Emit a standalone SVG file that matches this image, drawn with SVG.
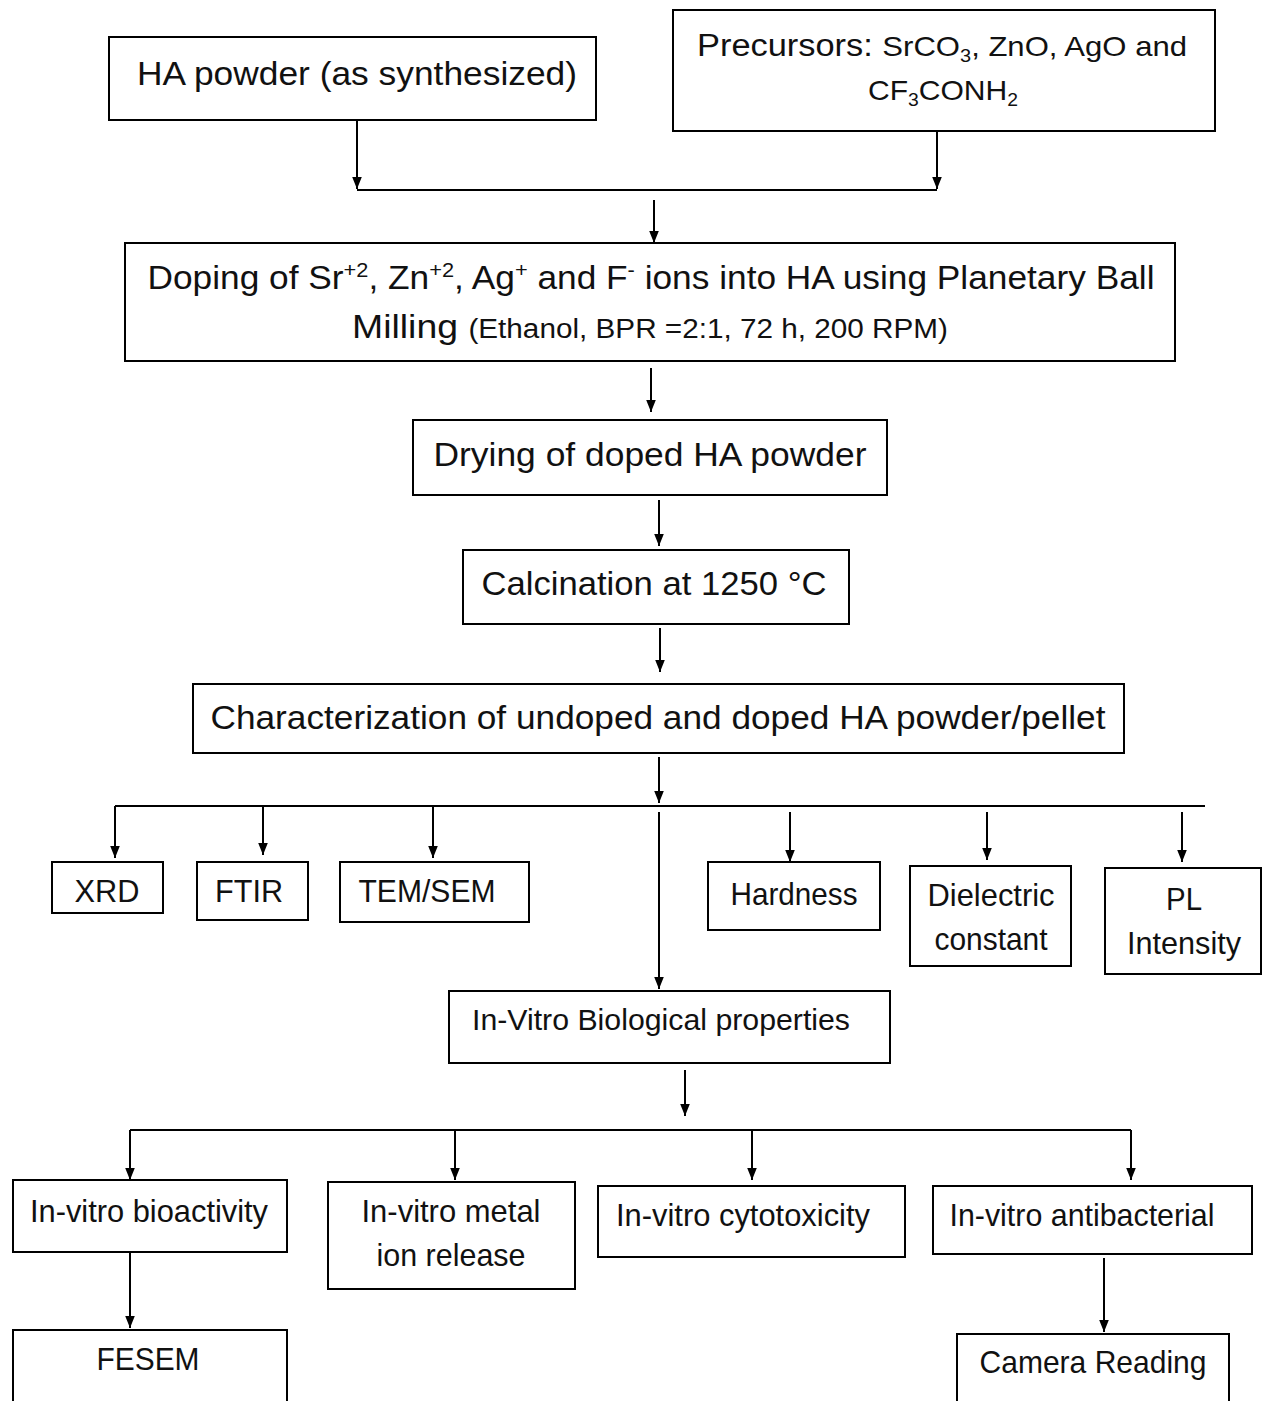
<svg xmlns="http://www.w3.org/2000/svg" width="1262" height="1401" viewBox="0 0 1262 1401">
<defs>
<marker id="ah" viewBox="0 0 10 10" refX="10" refY="5" markerWidth="6" markerHeight="6" orient="auto" markerUnits="strokeWidth"><path d="M0,1 L10,5 L0,9 z" fill="#000"/></marker>
<style>
.box{fill:#fff;stroke:#000;stroke-width:2}
.t{font-family:"Liberation Sans",Arial,sans-serif;fill:#111;text-anchor:middle}
.c line,.c path{stroke:#000;stroke-width:2;fill:none}
.a{marker-end:url(#ah)}
</style>
</defs>
<rect width="1262" height="1401" fill="#fff"/>
<g class="c">
<line class="a" x1="357" y1="120" x2="357" y2="189"/>
<line class="a" x1="937" y1="131" x2="937" y2="189"/>
<line x1="357" y1="190" x2="937" y2="190"/>
<line class="a" x1="654" y1="200" x2="654" y2="243"/>
<line class="a" x1="651" y1="368" x2="651" y2="412"/>
<line class="a" x1="659" y1="500" x2="659" y2="546"/>
<line class="a" x1="660" y1="628" x2="660" y2="672"/>
<line class="a" x1="659" y1="757" x2="659" y2="803"/>
<line x1="115" y1="806" x2="1205" y2="806"/>
<line class="a" x1="115" y1="806" x2="115" y2="858"/>
<line class="a" x1="263" y1="806" x2="263" y2="855"/>
<line class="a" x1="433" y1="806" x2="433" y2="858"/>
<line class="a" x1="659" y1="812" x2="659" y2="989"/>
<line class="a" x1="790" y1="812" x2="790" y2="862"/>
<line class="a" x1="987" y1="812" x2="987" y2="860"/>
<line class="a" x1="1182" y1="812" x2="1182" y2="862"/>
<line class="a" x1="685" y1="1070" x2="685" y2="1116"/>
<line x1="130" y1="1130" x2="1131" y2="1130"/>
<line class="a" x1="130" y1="1130" x2="130" y2="1180"/>
<line class="a" x1="455" y1="1130" x2="455" y2="1180"/>
<line class="a" x1="752" y1="1130" x2="752" y2="1180"/>
<line class="a" x1="1131" y1="1130" x2="1131" y2="1180"/>
<line class="a" x1="130" y1="1252" x2="130" y2="1328"/>
<line class="a" x1="1104" y1="1258" x2="1104" y2="1332"/>
</g>
<g id="ha"><rect class="box" x="109" y="37" width="487" height="83"/>
<text class="t" x="357" y="85" font-size="34" textLength="440" lengthAdjust="spacingAndGlyphs">HA powder (as synthesized)</text></g>
<g id="precursors"><rect class="box" x="673" y="10" width="542" height="121"/>
<text class="t" x="942" y="56" font-size="31" textLength="490" lengthAdjust="spacingAndGlyphs">Precursors: <tspan font-size="28">SrCO<tspan font-size="18" dy="6">3</tspan><tspan dy="-6">, ZnO, AgO and</tspan></tspan></text>
<text class="t" x="943" y="100" font-size="28" textLength="150" lengthAdjust="spacingAndGlyphs">CF<tspan font-size="18" dy="6">3</tspan><tspan dy="-6">CONH</tspan><tspan font-size="18" dy="6">2</tspan></text></g>
<g id="doping"><rect class="box" x="125" y="243" width="1050" height="118"/>
<text class="t" x="651" y="289" font-size="34" textLength="1007" lengthAdjust="spacingAndGlyphs">Doping of Sr<tspan font-size="21" dy="-12">+2</tspan><tspan dy="12">, Zn</tspan><tspan font-size="21" dy="-12">+2</tspan><tspan dy="12">, Ag</tspan><tspan font-size="21" dy="-12">+</tspan><tspan dy="12"> and F</tspan><tspan font-size="21" dy="-12">-</tspan><tspan dy="12"> ions into HA using Planetary Ball</tspan></text>
<text class="t" x="650" y="338" font-size="34" textLength="596" lengthAdjust="spacingAndGlyphs">Milling <tspan font-size="27">(Ethanol, BPR =2:1, 72 h, 200 RPM)</tspan></text></g>
<g id="drying"><rect class="box" x="413" y="420" width="474" height="75"/>
<text class="t" x="650" y="466" font-size="33" textLength="433" lengthAdjust="spacingAndGlyphs">Drying of doped HA powder</text></g>
<g id="calcination"><rect class="box" x="463" y="550" width="386" height="74"/>
<text class="t" x="654" y="595" font-size="33" textLength="345" lengthAdjust="spacingAndGlyphs">Calcination at 1250 °C</text></g>
<g id="characterization"><rect class="box" x="193" y="684" width="931" height="69"/>
<text class="t" x="658" y="729" font-size="33" textLength="895" lengthAdjust="spacingAndGlyphs">Characterization of undoped and doped HA powder/pellet</text></g>
<g id="xrd"><rect class="box" x="52" y="862" width="111" height="51"/>
<text class="t" x="107" y="902" font-size="32" textLength="65" lengthAdjust="spacingAndGlyphs">XRD</text></g>
<g id="ftir"><rect class="box" x="197" y="862" width="111" height="58"/>
<text class="t" x="249" y="902" font-size="32" textLength="68" lengthAdjust="spacingAndGlyphs">FTIR</text></g>
<g id="temsem"><rect class="box" x="340" y="862" width="189" height="60"/>
<text class="t" x="427" y="902" font-size="32" textLength="137" lengthAdjust="spacingAndGlyphs">TEM/SEM</text></g>
<g id="hardness"><rect class="box" x="708" y="862" width="172" height="68"/>
<text class="t" x="794" y="905" font-size="32" textLength="127" lengthAdjust="spacingAndGlyphs">Hardness</text></g>
<g id="dielectric"><rect class="box" x="910" y="866" width="161" height="100"/>
<text class="t" x="991" y="906" font-size="32" textLength="127" lengthAdjust="spacingAndGlyphs">Dielectric</text>
<text class="t" x="991" y="950" font-size="32" textLength="113" lengthAdjust="spacingAndGlyphs">constant</text></g>
<g id="pl"><rect class="box" x="1105" y="868" width="156" height="106"/>
<text class="t" x="1184" y="910" font-size="32" textLength="36" lengthAdjust="spacingAndGlyphs">PL</text>
<text class="t" x="1184" y="954" font-size="32" textLength="114" lengthAdjust="spacingAndGlyphs">Intensity</text></g>
<g id="invitro"><rect class="box" x="449" y="991" width="441" height="72"/>
<text class="t" x="661" y="1030" font-size="30" textLength="378" lengthAdjust="spacingAndGlyphs">In-Vitro Biological properties</text></g>
<g id="bioactivity"><rect class="box" x="13" y="1180" width="274" height="72"/>
<text class="t" x="149" y="1222" font-size="32" textLength="238" lengthAdjust="spacingAndGlyphs">In-vitro bioactivity</text></g>
<g id="metal"><rect class="box" x="328" y="1182" width="247" height="107"/>
<text class="t" x="451" y="1222" font-size="32" textLength="179" lengthAdjust="spacingAndGlyphs">In-vitro metal</text>
<text class="t" x="451" y="1266" font-size="32" textLength="149" lengthAdjust="spacingAndGlyphs">ion release</text></g>
<g id="cytotoxicity"><rect class="box" x="598" y="1186" width="307" height="71"/>
<text class="t" x="743" y="1226" font-size="32" textLength="254" lengthAdjust="spacingAndGlyphs">In-vitro cytotoxicity</text></g>
<g id="antibacterial"><rect class="box" x="933" y="1186" width="319" height="68"/>
<text class="t" x="1082" y="1226" font-size="32" textLength="265" lengthAdjust="spacingAndGlyphs">In-vitro antibacterial</text></g>
<g id="fesem"><rect class="box" x="13" y="1330" width="274" height="80"/>
<text class="t" x="148" y="1370" font-size="32" textLength="103" lengthAdjust="spacingAndGlyphs">FESEM</text></g>
<g id="camera"><rect class="box" x="957" y="1334" width="272" height="80"/>
<text class="t" x="1093" y="1373" font-size="32" textLength="227" lengthAdjust="spacingAndGlyphs">Camera Reading</text></g>
</svg>
